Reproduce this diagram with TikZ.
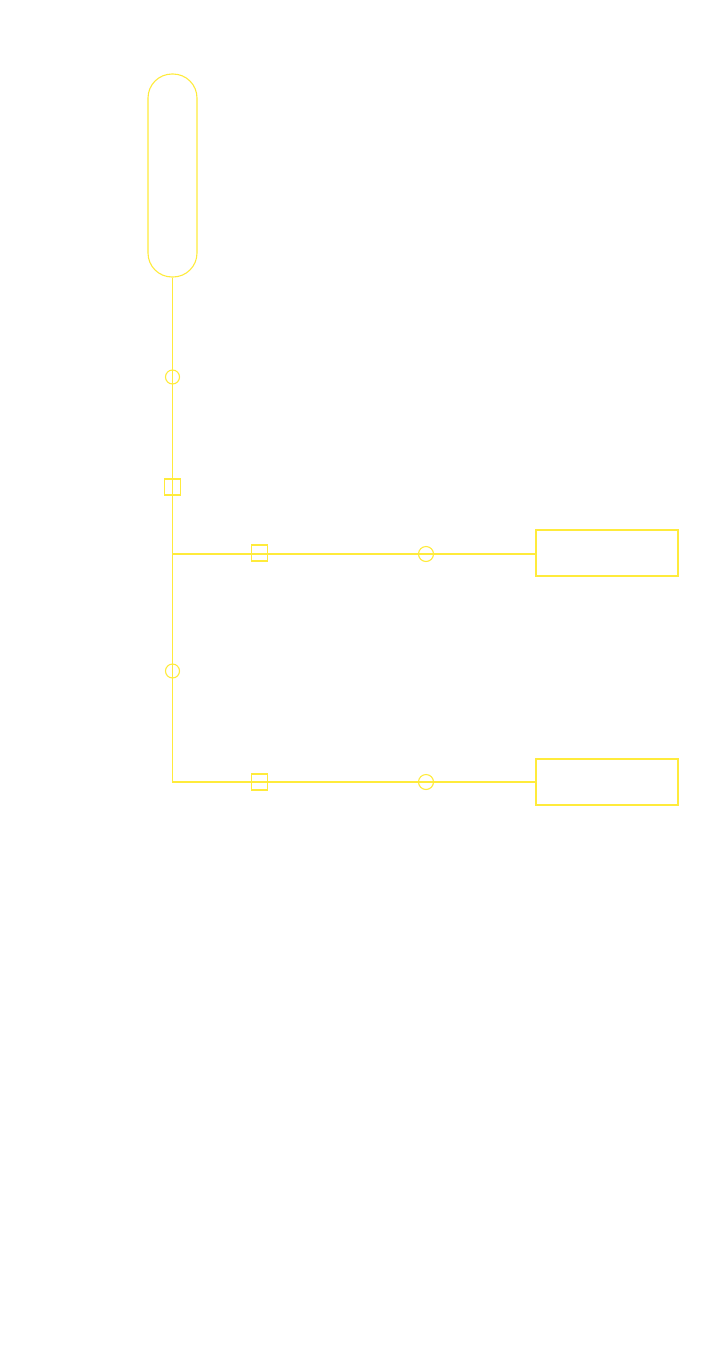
\documentclass[tikz,border=0pt]{standalone}
\definecolor{ylw}{HTML}{FFEB3B}
\tikzset{
  ln/.style={draw=ylw, line width=1.1pt},
  pill/.style={ln, rounded corners=24pt, minimum width=49pt, minimum height=203pt, inner sep=0pt},
  endbox/.style={ln, minimum width=142pt, minimum height=46pt, inner sep=0pt},
  dot/.style={ln, circle, minimum size=14pt, inner sep=0pt},
  sq/.style={ln, rectangle, minimum size=16pt, inner sep=0pt},
}
\begin{document}
\begin{tikzpicture}[x=1pt,y=-1pt]
\useasboundingbox (0,0) rectangle (726,1368);
\node[pill] (top) at (172.5,175.5) {};
\node[endbox] (r1) at (607,553) {};
\node[endbox] (r2) at (607,782) {};
\coordinate (j1) at (172.5,554);
\coordinate (j2) at (172.5,782);
\draw[ln] (top.south) -- (j2) -- (r2.west);
\draw[ln] (j1) -- (j1 -| r1.west);
\node[dot] (c1) at (172.5,377) {};
\node[sq] (s1) at (172.5,487) {};
\node[sq] (s2) at (259.5,553) {};
\node[dot, minimum size=15pt] (c2) at (426,554) {};
\node[dot] (c3) at (172.5,671) {};
\node[sq] (s3) at (259.5,782) {};
\node[dot, minimum size=15pt] (c4) at (426,782) {};
\end{tikzpicture}
\end{document}
